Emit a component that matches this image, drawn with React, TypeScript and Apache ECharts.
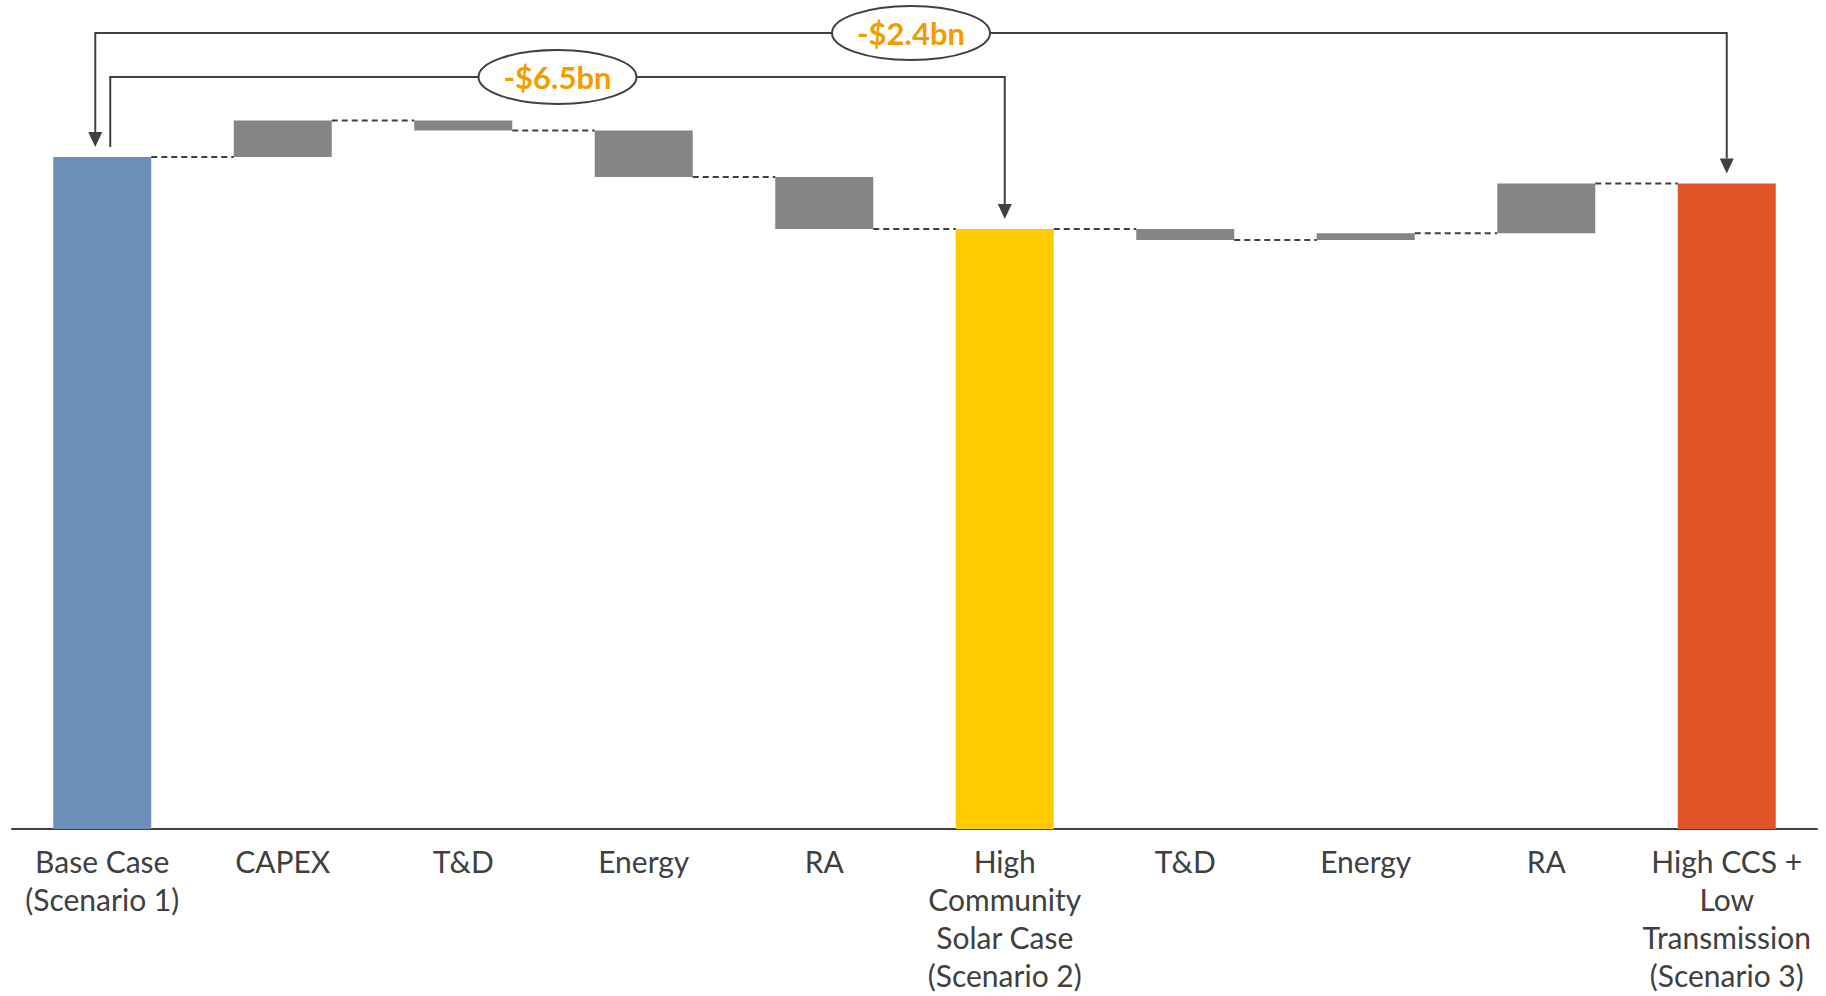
import React, { useEffect, useRef } from "react";
import * as echarts from "echarts";

// Waterfall: scenario totals ($bn) and the component changes between them
const categories = [
  "Base Case\n(Scenario 1)",
  "CAPEX",
  "T&D",
  "Energy",
  "RA",
  "High\nCommunity\nSolar Case\n(Scenario 2)",
  "T&D",
  "Energy",
  "RA",
  "High CCS +\nLow\nTransmission\n(Scenario 3)",
];
const totals: (number | null)[] = [60.7, null, null, null, null, 54.2, null, null, null, 58.3];
const changes: (number | null)[] = [null, 3.3, -0.9, -4.2, -4.7, null, -1.0, 0.6, 4.5, null];
const totalColors: Record<number, string> = { 0: "#6C8EB9", 5: "#FFCB00", 9: "#E05427" };

// Comparison brackets drawn above the bars: from one total to another
const comparisons = [
  { from: 0, to: 9, rowY: 33, fromOffset: -7, arrowAtFrom: true },
  { from: 0, to: 5, rowY: 77, fromOffset: 8, arrowAtFrom: false },
];

const INK = "#404040";
const BAR_W = 98;

// running level after each category
const levels: number[] = [];
categories.forEach((_, i) => {
  if (totals[i] != null) levels.push(totals[i] as number);
  else levels.push(levels[i - 1] + (changes[i] as number));
});

const hiddenBase = categories.map((_, i) =>
  totals[i] != null ? 0 : Math.min(levels[i - 1], levels[i])
);
const visible = categories.map((_, i) =>
  totals[i] != null
    ? { value: totals[i], itemStyle: { color: totalColors[i] } }
    : { value: Math.abs(changes[i] as number), itemStyle: { color: "#858585" } }
);
const connectors = levels.slice(0, -1).map((lv, i) => [i, lv]);

export default function App() {
  const ref = useRef<HTMLDivElement>(null);

  useEffect(() => {
    if (!ref.current) return;
    const chart = echarts.init(ref.current, null, { renderer: "svg" });
    chart.setOption({
      animation: false,
      grid: { left: 12, right: 9, top: 54, bottom: 167 },
      xAxis: {
        type: "category",
        data: categories,
        axisTick: { show: false },
        axisLine: { lineStyle: { color: INK, width: 2 } },
        axisLabel: {
          interval: 0,
          color: INK,
          fontFamily: "Lato",
          fontSize: 30,
          lineHeight: 38,
          margin: 13,
        },
      },
      yAxis: { type: "value", min: 0, max: 70, show: false, splitLine: { show: false } },
      series: [
        {
          type: "bar",
          stack: "wf",
          barWidth: BAR_W,
          itemStyle: { color: "transparent" },
          data: hiddenBase,
          silent: true,
        },
        {
          type: "bar",
          stack: "wf",
          barWidth: BAR_W,
          data: visible,
        },
        {
          type: "custom",
          data: connectors,
          z: 3,
          renderItem: (params: any, api: any) => {
            const i = api.value(0);
            const lv = api.value(1);
            const p0 = api.coord([i, lv]);
            const p1 = api.coord([i + 1, lv]);
            const half = BAR_W / 2;
            return {
              type: "line",
              shape: { x1: p0[0] + half, y1: p0[1], x2: p1[0] - half, y2: p0[1] },
              style: { stroke: INK, lineWidth: 2, lineDash: [6, 4] },
            };
          },
        },
      ],
    });

    const px = (i: number, v: number) => chart.convertToPixel({ gridIndex: 0 }, [i, v]) as number[];
    const graphics: any[] = [];
    comparisons.forEach((c) => {
      const a = px(c.from, levels[c.from]);
      const b = px(c.to, levels[c.to]);
      const xa = a[0] + c.fromOffset;
      const xb = b[0];
      const tipA = a[1] - 10;
      const tipB = b[1] - 10;
      const head = 15;
      graphics.push({
        type: "polyline",
        shape: {
          points: [
            [xa, c.arrowAtFrom ? tipA - head : tipA],
            [xa, c.rowY],
            [xb, c.rowY],
            [xb, tipB - head],
          ],
        },
        style: { stroke: INK, lineWidth: 2, fill: null },
      });
      const arrow = (x: number, tip: number) => ({
        type: "polygon",
        shape: { points: [[x - 7, tip - head], [x + 7, tip - head], [x, tip]] },
        style: { fill: INK },
      });
      if (c.arrowAtFrom) graphics.push(arrow(xa, tipA));
      graphics.push(arrow(xb, tipB));
      const cx = (xa + xb) / 2;
      graphics.push({
        type: "ellipse",
        shape: { cx, cy: c.rowY, rx: 79, ry: 27 },
        style: { fill: "#ffffff", stroke: INK, lineWidth: 2 },
        z: 10,
      });
      const diff = levels[c.to] - levels[c.from];
      graphics.push({
        type: "text",
        x: cx,
        y: c.rowY,
        z: 11,
        style: {
          text: `${diff < 0 ? "-" : "+"}$${Math.abs(diff).toFixed(1)}bn`,
          fill: "#F39C00",
          font: "bold 31px Lato",
          align: "center",
          verticalAlign: "middle",
        },
      });
    });
    chart.setOption({ graphic: graphics });

    return () => chart.dispose();
  }, []);

  return (
    <div
      ref={ref}
      style={{ position: "fixed", left: 0, top: 0, width: 1826, height: 996, background: "#ffffff" }}
    />
  );
}
